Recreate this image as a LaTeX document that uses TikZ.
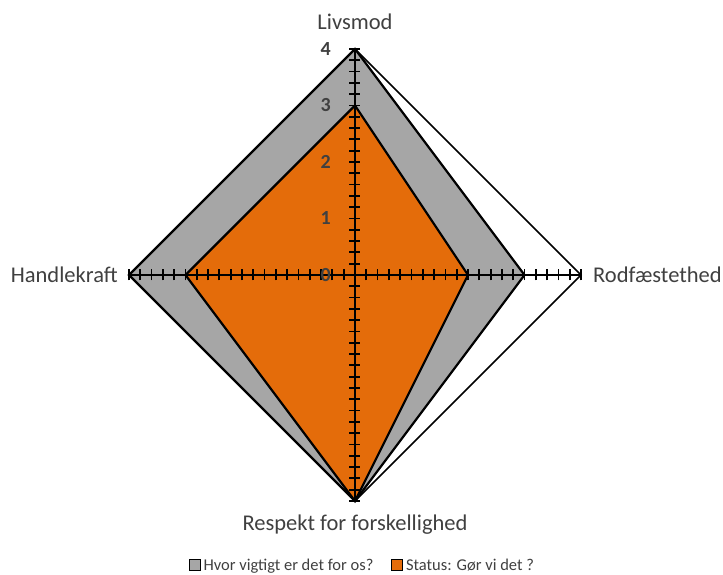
\documentclass[tikz,border=0pt]{standalone}
\usepackage{fontspec}
\setmainfont{Carlito}
\usetikzlibrary{positioning}
\definecolor{seriesgray}{HTML}{A6A6A6}
\definecolor{seriesorange}{HTML}{E46C0A}
\definecolor{labelgray}{HTML}{404040}
\tikzset{axisline/.style = {line width=2.6pt}}
\tikzset{tickmark/.style = {line width=1.8pt}}
\tikzset{series/.style = {draw=black, line width=2.2pt, line join=miter}}
\tikzset{category/.style = {inner sep=0pt, text=labelgray, font=\fontsize{22.5}{27}\selectfont}}
\tikzset{valuelabel/.style = {inner sep=0pt, anchor=east, text=labelgray, font=\fontsize{20}{24}\selectfont\bfseries}}
\tikzset{legendbox/.style = {draw=black, line width=1.2pt, minimum size=10.5pt, inner sep=0pt}}
\tikzset{legendtext/.style = {inner sep=0pt, anchor=base west, text=labelgray, font=\fontsize{16.5}{20}\selectfont}}

\begin{document}
\begin{tikzpicture}[x=56.5pt, y=56.5pt]
    \useasboundingbox (-355pt,-300pt) rectangle (368pt,275pt);

    \coordinate (tipN) at (0,4);
    \coordinate (tipE) at (4,0);
    \coordinate (tipS) at (0,-4);
    \coordinate (tipW) at (-4,0);

    \filldraw[series, fill=white, line width=1.6pt] (tipN) -- (tipE) -- (tipS) -- (tipW) -- cycle;
    \filldraw[series, fill=seriesgray] (0,4) -- (3,0) -- (0,-4) -- (-4,0) -- cycle;
    \filldraw[series, fill=seriesorange] (0,3) -- (2,0) -- (0,-4) -- (-3,0) -- cycle;

    \draw[axisline] (tipW) -- (tipE);
    \draw[axisline] (tipS) -- (tipN);
    \foreach \k in {1,...,20}
        \foreach \s in {1,-1} {
            \draw[tickmark] ([xshift=-5.5pt]0,\s*\k/5) -- ([xshift=5.5pt]0,\s*\k/5);
            \draw[tickmark] ([yshift=-5.5pt]\s*\k/5,0) -- ([yshift=5.5pt]\s*\k/5,0);
        }

    \foreach \v in {0,...,4}
        \node (val\v) [valuelabel] at ([xshift=-24pt]0,\v) {\v};

    \node (livsmod) [category, above=19pt of tipN] {Livsmod};
    \node (rodfaestethed) [category, right=12pt of tipE] {Rodfæstethed};
    \node (respekt) [category, below=14pt of tipS] {Respekt for forskellighed};
    \node (handlekraft) [category, left=11pt of tipW] {Handlekraft};

    \node (keyGray) [legendbox, fill=seriesgray] at (-160pt,-290pt) {};
    \node (keyGrayText) [legendtext] at ([xshift=2.5pt]keyGray.south east) {Hvor vigtigt er det for os?};
    \node (keyOrange) [legendbox, fill=seriesorange] at (42pt,-290pt) {};
    \node (keyOrangeText) [legendtext] at ([xshift=3pt]keyOrange.south east) {Status: Gør vi det ?};
\end{tikzpicture}
\end{document}
